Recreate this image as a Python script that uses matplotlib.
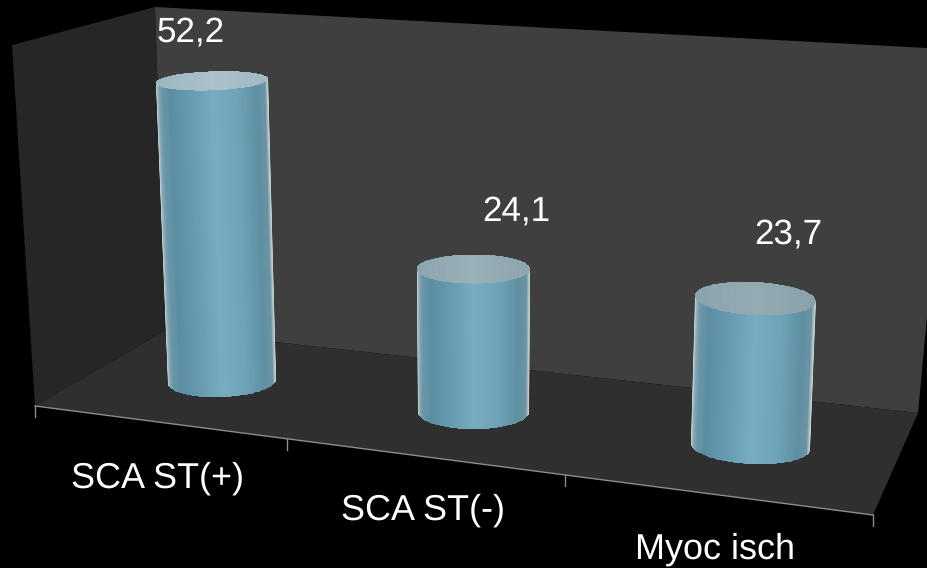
"""
3D-style cylinder bar chart on a dark background.
"""

import numpy as np
import matplotlib.pyplot as plt
from matplotlib.colors import LinearSegmentedColormap
from matplotlib.patches import Polygon, PathPatch
from matplotlib.path import Path

categories = ['SCA ST(+)', 'SCA ST(-)', 'Myoc isch']
values = [52.2, 24.1, 23.7]
value_labels = ['52,2', '24,1', '23,7']

W, H = 927, 568

# Scene geometry, in pixels
LEFT_WALL = [(12, 45), (155, 7), (166, 330), (35, 406)]
BACK_WALL = [(155, 7), (927, 48), (927, 317), (918, 413), (166, 330)]
FLOOR = [(35, 406), (166, 330), (918, 413), (873, 515)]
AXIS_TICKS_X = [35, 287, 565, 873]
TICK_LEN = 11

# Per-bar layout: base centre, pixels per unit, top lean, half widths, tilt
BASES = [(222, 381), (473.5, 412), (750.5, 446)]
UNIT_PX = [5.75, 5.93, 6.22]
LEAN = [-10, 0, 5]
HALF_W = [(56, 54, 9.5), (56.5, 55.5, 14.5), (60.2, 59.5, 16.5)]
TILT = [-2, 0, 3]
BASE_B = [16, 17, 18]

LABEL_POS = [(191, 32), (516, 211), (788, 234)]
CAT_POS = [(158, 478), (423, 510), (715.5, 549.5)]

SIDE_CMAP = LinearSegmentedColormap.from_list('side', [
    (0.00, '#c8d5d9'), (0.018, '#8aaab7'), (0.05, '#6a96a8'), (0.12, '#5c8ea3'),
    (0.32, '#689db2'), (0.50, '#78adc1'), (0.72, '#6fa4b8'), (0.90, '#5f8fa2'),
    (0.975, '#6c94a3'), (0.992, '#a8bcc3'), (1.00, '#c8d5d9')])
CAP_COLORS = [
    ['#9db6c0', '#aac1c9', '#a3b9c1'],
    ['#8ca5af', '#9ab0b8', '#8ea4ac'],
    ['#8aa3ad', '#94abb3', '#8ba1a9'],
]


def axis_y(x):
    """Height of the front floor edge at pixel column x."""
    (x0, y0), (x1, y1) = FLOOR[0], FLOOR[3]
    return y0 + (x - x0) * (y1 - y0) / (x1 - x0)


def ellipse_points(cx, cy, a, b, tilt, t):
    return cx + a * np.cos(t), cy + b * np.sin(t) + tilt * np.cos(t)


def draw_cylinder(ax, i, value):
    bx, by = BASES[i]
    tx = bx + LEAN[i]
    ty = by - value * UNIT_PX[i]
    a_top, a_base, b_top = HALF_W[i]
    tilt = TILT[i]
    b_base = BASE_B[i]

    # Body outline: back half of the top rim, then the front half of the base rim
    t = np.linspace(np.pi, 2 * np.pi, 60)
    top_x, top_y = ellipse_points(tx, ty, a_top, b_top, tilt, t)
    t = np.linspace(0, np.pi, 60)
    base_x, base_y = ellipse_points(bx, by, a_base, b_base, tilt, t)
    body = Path(np.column_stack([np.r_[top_x, base_x, top_x[0]], np.r_[top_y, base_y, top_y[0]]]))

    # Shaded side, following the lean of the cylinder
    u = np.linspace(0, 1, 160)
    mesh_x = np.vstack([tx - a_top + 2 * a_top * u, bx - a_base + 2 * a_base * u])
    mesh_y = np.vstack([np.full_like(u, ty), np.full_like(u, by)])
    # extend the mesh past both rims so the clip path sets the outline
    slope_x = (mesh_x[1] - mesh_x[0]) / (by - ty)
    pad = 30
    mesh_x = np.vstack([mesh_x[0] - slope_x * pad, mesh_x[1] + slope_x * pad])
    mesh_y = np.vstack([mesh_y[0] - pad, mesh_y[1] + pad])
    mesh_c = np.vstack([u, u])
    side = ax.pcolormesh(mesh_x, mesh_y, mesh_c, cmap=SIDE_CMAP, shading='gouraud', zorder=3)
    side.set_clip_path(PathPatch(body, transform=ax.transData))

    # Top cap
    t = np.linspace(0, 2 * np.pi, 120)
    cap_x, cap_y = ellipse_points(tx, ty, a_top, b_top, tilt, t)
    cap = Path(np.column_stack([cap_x, cap_y]))
    mesh_x = np.vstack([tx - a_top + 2 * a_top * u] * 2)
    mesh_y = np.vstack([np.full_like(u, ty - b_top - 5), np.full_like(u, ty + b_top + 5)])
    cap_cmap = LinearSegmentedColormap.from_list(f'cap{i}', CAP_COLORS[i])
    top = ax.pcolormesh(mesh_x, mesh_y, mesh_c, cmap=cap_cmap, shading='gouraud', zorder=4)
    top.set_clip_path(PathPatch(cap, transform=ax.transData))


plt.rcParams['text.hinting'] = 'none'
plt.rcParams['text.hinting_factor'] = 1

fig = plt.figure(figsize=(W / 100, H / 100), dpi=100, facecolor='black')
ax = fig.add_axes([0, 0, 1, 1])
ax.set_facecolor('black')
ax.set_xlim(0, W)
ax.set_ylim(H, 0)
ax.axis('off')

# Walls and floor
ax.add_patch(Polygon(LEFT_WALL, closed=True, fc='#262626', ec='none', zorder=1))
ax.add_patch(Polygon(BACK_WALL, closed=True, fc='#3f3f3f', ec='none', zorder=1))
ax.add_patch(Polygon(FLOOR, closed=True, fc='#2f2f2f', ec='none', zorder=2))

# Front axis line and ticks
ax.plot([FLOOR[0][0], FLOOR[3][0]], [FLOOR[0][1], FLOOR[3][1]], color='#8c8c8c', lw=1.0, zorder=2.5)
for x in AXIS_TICKS_X:
    y = axis_y(x)
    ax.plot([x, x], [y, y + TICK_LEN], color='#8c8c8c', lw=1.0, zorder=2.5)

for i, v in enumerate(values):
    draw_cylinder(ax, i, v)

for (x, y), s in zip(LABEL_POS, value_labels):
    ax.text(x, y, s, color='white', fontsize=25.5, family='Liberation Sans',
            ha='center', va='center', zorder=5)
for (x, y), s in zip(CAT_POS, categories):
    ax.text(x, y, s, color='white', fontsize=26, family='Liberation Sans',
            ha='center', va='center', zorder=5)

fig.savefig('out.png', dpi=100, facecolor='black')
